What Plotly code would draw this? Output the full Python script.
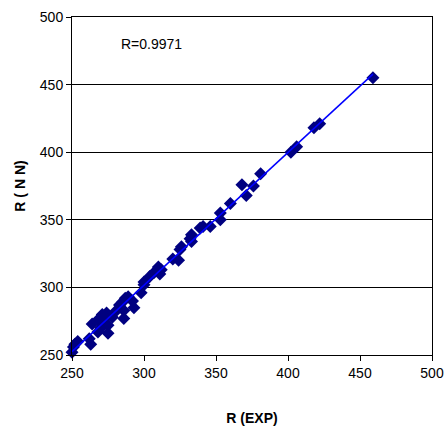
import numpy as np
import plotly.graph_objects as go

r_exp = [250, 251, 254, 252, 262, 263, 264, 268, 271, 274, 268, 275, 270, 275, 272,
         278, 283, 280, 286, 285, 287, 289, 286, 293, 292, 298, 300, 300, 304, 307,
         311, 310, 312, 320, 324, 325, 326, 333, 332, 333, 339, 341, 346, 353, 353,
         360, 368, 371, 376, 381, 402, 406, 418, 422, 459]
r_nn = [252, 256, 260, 258, 262, 258, 273, 276, 280, 281, 267, 266, 270, 272, 276,
        278, 287, 282, 283, 289, 292, 293, 277, 285, 290, 296, 302, 304, 308, 311,
        310, 315, 313, 321, 320, 328, 330, 334, 336, 339, 344, 345, 345, 350, 355,
        362, 376, 368, 375, 384, 400, 404, 418, 421, 455]
x_ticks = [250, 300, 350, 400, 450, 500]
y_ticks = [250, 300, 350, 400, 450, 500]
r_label = "R=0.9971"

coef = np.polyfit(r_exp, r_nn, 1)
fx = np.array([min(r_exp), max(r_exp)])
fy = np.polyval(coef, fx)

fig = go.Figure()
fig.add_trace(go.Scatter(x=r_exp, y=r_nn, mode="markers",
                         marker=dict(symbol="diamond", size=10, color="#000080",
                                     line=dict(width=0)),
                         showlegend=False, cliponaxis=False))
fig.add_trace(go.Scatter(x=fx, y=fy, mode="lines",
                         line=dict(color="#0000FF", width=1.5),
                         showlegend=False))

fig.add_annotation(x=0.13, y=0.92, xref="paper", yref="paper", text=r_label,
                   showarrow=False, xanchor="left", yanchor="middle",
                   font=dict(size=14, color="black"))

axis_common = dict(showline=True, linecolor="black", linewidth=1, mirror=True,
                   ticks="outside", ticklen=5, tickcolor="black",
                   tickfont=dict(size=14, color="black"), zeroline=False,
                   automargin=False)
fig.update_xaxes(range=[250, 500], tickvals=x_ticks, showgrid=False,
                 title=dict(text="<b>R (EXP)</b>", font=dict(size=14, color="black"), standoff=33),
                 **axis_common)
fig.update_yaxes(range=[250, 500], tickvals=y_ticks, showgrid=True,
                 gridcolor="black", gridwidth=1,
                 title=dict(text="<b>R ( N N)</b>", font=dict(size=14, color="black"), standoff=10),
                 **axis_common)

fig.update_layout(width=445, height=433,
                  margin=dict(l=72, r=13, t=17, b=78),
                  plot_bgcolor="white", paper_bgcolor="white",
                  font=dict(family="Liberation Sans, Arial, sans-serif", color="black"))

fig.write_html("out.html", config={"displayModeBar": False},
               post_script="document.body.style.margin='0';")
